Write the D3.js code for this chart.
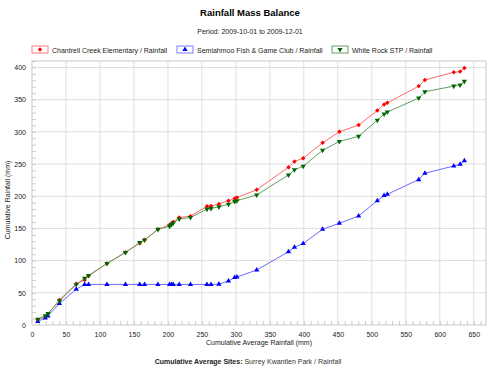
<!DOCTYPE html>
<html>
<head>
<meta charset="utf-8">
<script src="https://d3js.org/d3.v7.min.js"></script>
<style>
    body { margin: 0; background: #fff; }
    text { font-family: "Liberation Sans", Arial, sans-serif; }
</style>
</head>
<body>
<svg id="drawing_region"></svg>
<script>
// cumulative average rainfall (Surrey Kwantlen Park), mm
const avgRain = [8.5, 19.6, 23.5, 40.4, 65.1, 77.4, 83.2, 110.3, 137.5, 158.5,
    165.6, 185.3, 202.4, 205.3, 207.8, 216.6, 233.2, 257.4, 263.4, 275,
    289.1, 298.2, 301.5, 330.6, 377.4, 386.2, 399, 427.6, 452.2, 480.6,
    508.1, 518.1, 522.8, 569, 578.1, 620.6, 629.9, 636.2];

const chantrell = [8, 13, 17, 39, 64, 70, 76, 95.5, 113, 127,
    132, 148.5, 155.5, 158, 160, 167, 169, 184.3, 184.8, 188,
    193, 196.4, 198, 210, 245, 254, 259, 283, 300, 310.5,
    333, 342.5, 345, 371, 380.5, 392.5, 393.5, 399];

const semiahmoo = [5.5, 11, 14, 33.5, 55.5, 63, 63, 63, 63, 63,
    63, 63, 63, 63, 63, 63, 63, 63, 63, 63.5,
    68.3, 73.8, 74.5, 85.4, 113.8, 120.7, 126.6, 148.6, 158, 169.3,
    193, 201, 203, 225.8, 235.6, 247, 249.5, 255];

const whiteRock = [9, 14.5, 18, 37.5, 63, 72.5, 77, 95.5, 112.5, 128,
    132, 148.5, 153.5, 156, 158.5, 164.6, 167, 180, 181, 183.5,
    187.6, 191.8, 193, 202, 233, 241, 246.5, 271.3, 285, 293,
    318, 327.6, 330.7, 352.5, 362.3, 371, 372.7, 378.4];

const seriesNames = ['Chantrell Creek Elementary / Rainfall',
    'Semiahmoo Fish & Game Club / Rainfall',
    'White Rock STP / Rainfall'];

const xTicks = d3.range(0, 651, 50);
const yTicks = d3.range(0, 401, 50);

class MassBalance {

    constructor( config ) {
        this.config = config;
        this.init();
    }

    init() {
        let self = this;
        const c = self.config;

        self.svg = d3.select( c.parent )
            .attr('width', c.width)
            .attr('height', c.height);

        self.inner_width = c.width - c.margin.left - c.margin.right;
        self.inner_height = c.height - c.margin.top - c.margin.bottom;

        self.chart = self.svg.append('g')
            .attr('transform', `translate(${c.margin.left}, ${c.margin.top})`);

        self.xscale = d3.scaleLinear().domain([0, 668]).range([0, self.inner_width]);
        self.yscale = d3.scaleLinear().domain([0, 410]).range([self.inner_height, 0]);

        // titles
        self.svg.append('text')
            .attr('x', c.width / 2).attr('y', 16)
            .attr('text-anchor', 'middle')
            .style('font-size', '9.5px').style('font-weight', 'bold')
            .text('Rainfall Mass Balance');

        self.svg.append('text')
            .attr('x', c.width / 2).attr('y', 34)
            .attr('text-anchor', 'middle')
            .style('font-size', '7px').attr('fill', '#222')
            .text('Period: 2009-10-01 to 2009-12-01');

        self.svg.append('text')
            .attr('x', 259).attr('y', 345)
            .attr('text-anchor', 'middle')
            .style('font-size', '7px').attr('fill', '#222')
            .text('Cumulative Average Rainfall  (mm)');

        self.svg.append('text')
            .attr('transform', 'rotate(-90)')
            .attr('x', -200).attr('y', 10)
            .attr('text-anchor', 'middle')
            .style('font-size', '7px').attr('fill', '#222')
            .text('Cumulative Rainfall  (mm)');

        const foot = self.svg.append('text')
            .attr('x', 248).attr('y', 364)
            .attr('text-anchor', 'middle')
            .style('font-size', '7px').attr('fill', '#222');
        foot.append('tspan').style('font-weight', 'bold').text('Cumulative Average Sites: ');
        foot.append('tspan').attr('fill', '#333').text('Surrey Kwantlen Park / Rainfall');
    }

    render() {
        let self = this;
        const iw = self.inner_width, ih = self.inner_height;

        // grid
        self.chart.append('g').selectAll('line.vg')
            .data(xTicks.filter(d => d > 0))
            .join('line')
            .attr('x1', d => self.xscale(d)).attr('x2', d => self.xscale(d))
            .attr('y1', 0).attr('y2', ih)
            .attr('stroke', '#dedede');
        self.chart.append('g').selectAll('line.hg')
            .data(yTicks.filter(d => d > 0))
            .join('line')
            .attr('x1', 0).attr('x2', iw)
            .attr('y1', d => self.yscale(d)).attr('y2', d => self.yscale(d))
            .attr('stroke', '#dedede');

        // minor ticks, pointing inward
        self.chart.append('g')
            .call(d3.axisTop(self.xscale).tickValues(d3.range(10, 668, 10)).tickSize(4).tickFormat(''))
            .attr('transform', `translate(0, ${ih})`)
            .call(g => g.select('.domain').remove())
            .selectAll('line').attr('stroke', '#ccc');
        self.chart.append('g')
            .call(d3.axisRight(self.yscale).tickValues(d3.range(10, 411, 10)).tickSize(4).tickFormat(''))
            .call(g => g.select('.domain').remove())
            .selectAll('line').attr('stroke', '#ccc');

        // frame
        self.chart.append('rect')
            .attr('width', iw).attr('height', ih)
            .attr('fill', 'none').attr('stroke', '#c8c8c8');

        // tick labels
        self.chart.append('g')
            .attr('transform', `translate(0, ${ih})`)
            .call(d3.axisBottom(self.xscale).tickValues(xTicks).tickSize(0).tickPadding(7))
            .call(g => g.select('.domain').remove())
            .selectAll('text').style('font-size', '7px').attr('fill', '#222')
            .style('font-family', '"Liberation Sans", Arial, sans-serif');
        self.chart.append('g')
            .call(d3.axisLeft(self.yscale).tickValues(yTicks).tickSize(0).tickPadding(6))
            .call(g => g.select('.domain').remove())
            .selectAll('text').style('font-size', '7px').attr('fill', '#222')
            .style('font-family', '"Liberation Sans", Arial, sans-serif');

        // series (diamond = square turned 45deg)
        const series = [
            { vals: chantrell, line: '#ff6b6b', mark: '#ff0000', sym: d3.symbolSquare, size: 10, rot: 45 },
            { vals: semiahmoo, line: '#6b6bff', mark: '#0000ff', sym: d3.symbolTriangle, size: 12, rot: 0 },
            { vals: whiteRock, line: '#5f9f5f', mark: '#006600', sym: d3.symbolTriangle, size: 12, rot: 180 }
        ];

        const line = d3.line()
            .x(d => self.xscale(d[0]))
            .y(d => self.yscale(d[1]));

        series.forEach(s => {
            const pts = avgRain.map((x, i) => [x, s.vals[i]]);
            self.chart.append('path')
                .datum(pts)
                .attr('fill', 'none')
                .attr('stroke', s.line)
                .attr('stroke-width', 1)
                .attr('d', line);
            self.chart.append('g').selectAll('path')
                .data(pts)
                .join('path')
                .attr('d', d3.symbol().type(s.sym).size(s.size))
                .attr('transform', d => `translate(${self.xscale(d[0])}, ${self.yscale(d[1])}) rotate(${s.rot})`)
                .attr('fill', s.mark);
        });

        // legend
        const legX = [32, 177, 332];
        const boxStroke = ['#ff7b7b', '#7b7bff', '#5f9f5f'];
        const leg = self.svg.append('g');
        series.forEach((s, i) => {
            const g = leg.append('g').attr('transform', `translate(${legX[i]}, 46)`);
            g.append('rect')
                .attr('width', 16).attr('height', 7)
                .attr('fill', '#fff').attr('stroke', boxStroke[i]);
            g.append('path')
                .attr('d', d3.symbol().type(s.sym).size(s.size)())
                .attr('transform', `translate(8, 3.5) rotate(${s.rot})`)
                .attr('fill', s.mark);
            g.append('text')
                .attr('x', 20).attr('y', 6.5)
                .style('font-size', '7px').attr('fill', '#222')
                .text(seriesNames[i]);
        });
    }
}

const chart = new MassBalance({
    parent: '#drawing_region',
    width: 500,
    height: 375,
    margin: {top: 61, right: 14, bottom: 50, left: 32}
});
chart.render();
</script>
</body>
</html>
